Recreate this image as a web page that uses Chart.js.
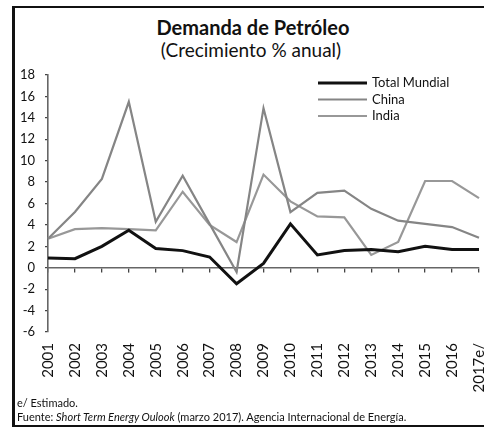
<!DOCTYPE html>
<html>
<head>
<meta charset="utf-8">
<script src="https://cdn.jsdelivr.net/npm/chart.js@4.4.0/dist/chart.umd.min.js"></script>
<style>
  html, body { margin: 0; padding: 0; background: #fff; }
  body { width: 484px; height: 430px; position: relative; overflow: hidden; font-family: Lato, "Open Sans", sans-serif; color: #111; }
  #frame { position: absolute; left: 12px; top: 6px; width: 480px; height: 421px; border-left: 3px solid #111; border-top: 2px solid #111; border-bottom: 2px solid #111; box-sizing: border-box; }
  #title { position: absolute; left: 0; width: 506px; top: 15px; text-align: center; font-weight: bold; font-size: 20px; }
  #subtitle { position: absolute; left: 0; width: 502px; top: 38px; text-align: center; font-size: 19px; }
  #note1 { position: absolute; left: 17px; top: 396px; font-size: 11px; }
  #note2 { position: absolute; left: 17px; top: 410px; font-size: 11px; white-space: nowrap; }
  #c { position: absolute; left: 0; top: 0; }
</style>
</head>
<body>
<div id="frame"></div>
<div id="title">Demanda de Petróleo</div>
<div id="subtitle">(Crecimiento % anual)</div>
<canvas id="c" width="484" height="430"></canvas>
<div id="note1">e/ Estimado.</div>
<div id="note2">Fuente: <i>Short Term Energy Oulook</i> (marzo 2017). Agencia Internacional de Energía.</div>
<script>
const years = ["2001","2002","2003","2004","2005","2006","2007","2008","2009","2010","2011","2012","2013","2014","2015","2016","2017e/"];
const totalMundial = [0.9, 0.85, 2.0, 3.5, 1.8, 1.6, 1.0, -1.5, 0.4, 4.1, 1.2, 1.6, 1.7, 1.5, 2.0, 1.7, 1.7];
const china = [2.7, 5.2, 8.3, 15.5, 4.3, 8.6, 4.1, -0.4, 14.9, 5.2, 7.0, 7.2, 5.5, 4.4, 4.1, 3.8, 2.8];
const india = [2.7, 3.6, 3.7, 3.6, 3.5, 7.1, 4.0, 2.4, 8.7, 6.2, 4.8, 4.7, 1.2, 2.4, 8.1, 8.1, 6.5];
const yTicks = [18, 16, 14, 12, 10, 8, 6, 4, 2, 0, -2, -4, -6];
const seriesNames = ["Total Mundial", "China", "India"];
const seriesColors = ["#111111", "#858585", "#989898"];
const seriesWidths = [3, 2.2, 2.2];

const legendPlugin = {
  id: 'customLegend',
  afterDraw(chart) {
    const ctx = chart.ctx;
    ctx.save();
    ctx.font = '13px Lato, "Open Sans", sans-serif';
    ctx.textBaseline = 'middle';
    chart.data.datasets.forEach((ds, i) => {
      const y = 83 + i * 16.5;
      ctx.strokeStyle = ds.borderColor;
      ctx.lineWidth = ds.borderWidth;
      ctx.beginPath();
      ctx.moveTo(318, y);
      ctx.lineTo(367, y);
      ctx.stroke();
      ctx.fillStyle = '#111';
      ctx.fillText(ds.label, 372, y);
    });
    ctx.restore();
  }
};

const datasets = [totalMundial, china, india].map((d, i) => ({
  label: seriesNames[i],
  data: d,
  borderColor: seriesColors[i],
  backgroundColor: seriesColors[i],
  borderWidth: seriesWidths[i],
  pointRadius: 0,
  tension: 0,
  order: i
}));

new Chart(document.getElementById('c'), {
  type: 'line',
  data: { labels: years, datasets },
  plugins: [legendPlugin],
  options: {
    responsive: false,
    animation: false,
    layout: { padding: { left: 0, right: 5, top: 75, bottom: 38 } },
    plugins: { legend: { display: false }, title: { display: false }, tooltip: { enabled: false } },
    scales: {
      x: {
        type: 'category',
        offset: false,
        grid: { display: false },
        border: { display: false },
        ticks: {
          autoSkip: false,
          minRotation: 90,
          maxRotation: 90,
          padding: 3,
          color: '#111',
          font: { family: 'Lato, "Open Sans", sans-serif', size: 15 }
        },
        afterFit(scale) { scale.height = 60; scale.paddingLeft = 0; scale.paddingRight = 0; }
      },
      x2: {
        type: 'category',
        axis: 'x',
        labels: years,
        offset: false,
        position: { y: 0 },
        grid: { display: true, drawOnChartArea: false, tickLength: 4, color: '#444', lineWidth: 1.3 },
        border: { display: true, color: '#666', width: 1.6 },
        ticks: { display: false }
      },
      y: {
        min: -6,
        max: 18,
        afterBuildTicks(scale) { scale.ticks = yTicks.map(v => ({ value: v })); },
        grid: { display: true, drawOnChartArea: false, tickLength: 3, color: '#444', lineWidth: 1.3 },
        border: { display: true, color: '#666', width: 1.6 },
        ticks: {
          padding: 10,
          color: '#111',
          font: { family: 'Lato, "Open Sans", sans-serif', size: 13 }
        },
        afterFit(scale) { scale.width = 48; }
      }
    }
  }
});
</script>
</body>
</html>
